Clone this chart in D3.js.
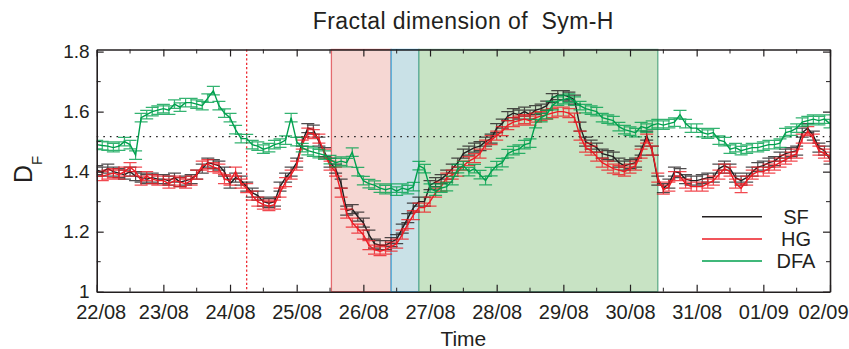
<!DOCTYPE html>
<html>
<head>
<meta charset="utf-8">
<script src="https://cdn.jsdelivr.net/npm/d3@7"></script>
<style>
  body { margin: 0; background: #fff; }
  svg { display: block; }
  text { font-family: "Liberation Sans", Arial, Helvetica, sans-serif; fill: #231f20; }
</style>
</head>
<body>
<svg id="chart" width="849" height="349"></svg>
<script>
// Sampling: one estimate every 2 hours from 22/08 00:00 to 02/09 00:00
const startTime = Date.UTC(2018, 7, 22);
const endTime = Date.UTC(2018, 8, 2);
const stepHours = 2;

// Structure-function estimate (SF)
const sfValues = [
  1.405, 1.40, 1.41, 1.40, 1.395, 1.39, 1.40, 1.385, 1.38, 1.375, 1.38, 1.375,
  1.375, 1.37, 1.38, 1.365, 1.37, 1.375, 1.39, 1.41, 1.43, 1.425, 1.42, 1.40,
  1.36, 1.38, 1.37, 1.35, 1.33, 1.32, 1.30, 1.295, 1.30, 1.35, 1.38, 1.40,
  1.43, 1.50, 1.545, 1.54, 1.50, 1.465, 1.43, 1.41, 1.36, 1.27, 1.275, 1.25,
  1.23, 1.19, 1.16, 1.155, 1.155, 1.165, 1.175, 1.21, 1.245, 1.28, 1.30, 1.30,
  1.355, 1.365, 1.375, 1.39, 1.41, 1.43, 1.46, 1.47, 1.48, 1.485, 1.50, 1.51,
  1.545, 1.56, 1.585, 1.595, 1.59, 1.60, 1.59, 1.605, 1.61, 1.62, 1.645, 1.655,
  1.655, 1.65, 1.64, 1.55, 1.50, 1.49, 1.48, 1.46, 1.455, 1.45, 1.43, 1.42,
  1.425, 1.43, 1.47, 1.52, 1.47, 1.37, 1.345, 1.36, 1.40, 1.395, 1.375, 1.37,
  1.37, 1.375, 1.38, 1.38, 1.41, 1.42, 1.41, 1.38, 1.37, 1.38, 1.40, 1.415,
  1.42, 1.43, 1.435, 1.45, 1.46, 1.465, 1.47, 1.53, 1.545, 1.52, 1.48, 1.47, 1.44
];

// Higuchi estimate (HG)
const hgValues = [
  1.385, 1.385, 1.39, 1.395, 1.39, 1.40, 1.415, 1.40, 1.37, 1.385, 1.375, 1.37,
  1.37, 1.36, 1.37, 1.365, 1.36, 1.37, 1.39, 1.42, 1.425, 1.415, 1.41, 1.375,
  1.37, 1.40, 1.36, 1.345, 1.32, 1.30, 1.29, 1.285, 1.29, 1.33, 1.365, 1.39,
  1.42, 1.49, 1.53, 1.525, 1.51, 1.46, 1.42, 1.40, 1.33, 1.26, 1.23, 1.21,
  1.19, 1.155, 1.14, 1.135, 1.14, 1.15, 1.16, 1.19, 1.225, 1.255, 1.28, 1.28,
  1.30, 1.33, 1.35, 1.38, 1.39, 1.40, 1.42, 1.435, 1.445, 1.46, 1.49, 1.505,
  1.52, 1.535, 1.555, 1.565, 1.57, 1.575, 1.57, 1.58, 1.585, 1.59, 1.595, 1.60,
  1.60, 1.595, 1.58, 1.52, 1.48, 1.47, 1.45, 1.43, 1.42, 1.41, 1.405, 1.40,
  1.41, 1.42, 1.46, 1.51, 1.47, 1.38, 1.34, 1.35, 1.385, 1.385, 1.36, 1.35,
  1.35, 1.35, 1.36, 1.37, 1.39, 1.41, 1.40, 1.36, 1.345, 1.37, 1.39, 1.40,
  1.40, 1.41, 1.42, 1.43, 1.44, 1.45, 1.46, 1.51, 1.535, 1.51, 1.47, 1.46, 1.45
];

// Detrended fluctuation analysis estimate (DFA)
const dfaValues = [
  1.49, 1.487, 1.485, 1.48, 1.485, 1.50, 1.49, 1.455, 1.58, 1.59, 1.60, 1.605,
  1.61, 1.605, 1.625, 1.615, 1.63, 1.63, 1.625, 1.62, 1.645, 1.67, 1.62, 1.595,
  1.58, 1.54, 1.51, 1.51, 1.49, 1.485, 1.475, 1.48, 1.49, 1.495, 1.505, 1.58,
  1.50, 1.48, 1.47, 1.465, 1.46, 1.455, 1.44, 1.43, 1.435, 1.43, 1.465, 1.40,
  1.37, 1.36, 1.355, 1.345, 1.34, 1.345, 1.335, 1.345, 1.34, 1.35, 1.42, 1.41,
  1.345, 1.335, 1.345, 1.35, 1.37, 1.41, 1.42, 1.40, 1.41, 1.39, 1.37, 1.40,
  1.42, 1.43, 1.46, 1.47, 1.475, 1.49, 1.495, 1.56, 1.58, 1.59, 1.62, 1.635,
  1.64, 1.645, 1.635, 1.62, 1.61, 1.605, 1.60, 1.58, 1.575, 1.57, 1.55, 1.54,
  1.535, 1.53, 1.55, 1.545, 1.555, 1.56, 1.555, 1.56, 1.565, 1.59, 1.56, 1.545,
  1.545, 1.53, 1.525, 1.53, 1.505, 1.50, 1.475, 1.48, 1.47, 1.475, 1.48, 1.48,
  1.485, 1.49, 1.49, 1.495, 1.53, 1.535, 1.545, 1.565, 1.57, 1.575, 1.57, 1.575, 1.56
];

// Half-width of the error bars of each method
const sfError = 0.015;
const hgError = 0.015;
const dfaError = 0.014;

const seriesNames = ["SF", "HG", "DFA"];
const seriesColors = ["#231f20", "#ed1c24", "#00a04e"];

// Storm phases (shaded bands) and reference markers
const phaseStarts = ["2018-08-25T12:30Z", "2018-08-26T10:00Z", "2018-08-26T20:00Z"];
const phaseEnds   = ["2018-08-26T10:00Z", "2018-08-26T20:00Z", "2018-08-30T10:00Z"];
const phaseFills  = ["#f6d7d3", "#c9e1e7", "#c8e3c4"];
const phaseEdges  = ["#e46a6e", "#3fa7da", "#63ad8a"];
const eventTime = "2018-08-24T06:00Z";
const referenceLevel = 1.517;

const yTicks = [1, 1.2, 1.4, 1.6, 1.8];
const yMinorTicks = [1.1, 1.3, 1.5, 1.7];

// ---------------------------------------------------------------
const W = 849, H = 349;
const margin = { left: 96.7, right: 19, top: 49.5, bottom: 57.3 };
const svg = d3.select("#chart");
const x = d3.scaleUtc().domain([startTime, endTime]).range([margin.left, W - margin.right]);
const y = d3.scaleLinear().domain([1, 1.807]).range([H - margin.bottom, margin.top]);
const x0 = x.range()[0], x1 = x.range()[1], y0 = y.range()[0], y1 = y.range()[1];

const times = sfValues.map((_, i) => new Date(startTime + i * stepHours * 3600e3));
const series = [
  { values: sfValues, err: sfError },
  { values: hgValues, err: hgError },
  { values: dfaValues, err: dfaError }
].map((s, k) => ({ ...s, name: seriesNames[k], color: seriesColors[k] }));

svg.append("defs").append("clipPath").attr("id", "plot-clip")
  .append("rect").attr("x", x0).attr("y", y1).attr("width", x1 - x0).attr("height", y0 - y1);

// Shaded phases
const phases = phaseStarts.map((s, i) => ({ a: new Date(s), b: new Date(phaseEnds[i]), fill: phaseFills[i], edge: phaseEdges[i] }));
svg.append("g").selectAll("rect").data(phases).join("rect")
  .attr("x", d => x(d.a)).attr("y", y1)
  .attr("width", d => x(d.b) - x(d.a)).attr("height", y0 - y1)
  .attr("fill", d => d.fill).attr("stroke", d => d.edge).attr("stroke-width", 1.3);

// Reference lines
svg.append("line")
  .attr("x1", x0).attr("x2", x1).attr("y1", y(referenceLevel)).attr("y2", y(referenceLevel))
  .attr("stroke", "#231f20").attr("stroke-width", 1.3).attr("stroke-dasharray", "1.6,5");
svg.append("line")
  .attr("x1", x(new Date(eventTime))).attr("x2", x(new Date(eventTime)))
  .attr("y1", y1).attr("y2", y0)
  .attr("stroke", "#ed1c24").attr("stroke-width", 1.2).attr("stroke-dasharray", "2.2,2.2");

// Series with error bars
const plot = svg.append("g").attr("clip-path", "url(#plot-clip)");
const line = d3.line().x((d, i) => x(times[i])).y(d => y(d));
const cap = 6.5;
series.forEach(s => {
  const g = plot.append("g");
  const bars = s.values.map((v, i) => {
    const cx = x(times[i]), lo = y(v - s.err), hi = y(v + s.err);
    return `M${cx},${lo}V${hi}M${cx - cap},${lo}H${cx + cap}M${cx - cap},${hi}H${cx + cap}`;
  }).join("");
  g.append("path").attr("d", bars).attr("fill", "none")
    .attr("stroke", s.color).attr("stroke-width", 1.2).attr("stroke-opacity", 0.8);
  g.append("path").datum(s.values).attr("d", line).attr("fill", "none")
    .attr("stroke", s.color).attr("stroke-width", 1.4);
});

// Axes (ticks point inward, box mirrored on top and right)
const dayTicks = d3.utcDay.range(new Date(startTime), new Date(endTime + 1));
const halfDayTicks = d3.utcHour.every(12).range(new Date(startTime), new Date(endTime + 1))
  .filter(d => d.getUTCHours() === 12);
const axisColor = "#231f20";

const xAxis = svg.append("g").attr("transform", `translate(0,${y0})`)
  .call(d3.axisBottom(x).tickValues(dayTicks).tickSizeInner(-7).tickSizeOuter(0).tickPadding(13)
    .tickFormat(d3.utcFormat("%d/%m")));
xAxis.selectAll("text").attr("font-size", 20)
  .attr("dx", (d, i) => i === 0 ? 4 : (i === dayTicks.length - 1 ? -7 : 0));

svg.append("g").attr("transform", `translate(0,${y1})`)
  .call(d3.axisTop(x).tickValues(dayTicks).tickSizeInner(-7).tickSizeOuter(0).tickFormat(""));

const yFmt = d => d3.format(".1f")(d).replace(/\.0$/, "");
const yAxis = svg.append("g").attr("transform", `translate(${x0},0)`)
  .call(d3.axisLeft(y).tickValues(yTicks).tickSizeInner(-7).tickSizeOuter(0).tickPadding(7).tickFormat(yFmt));
yAxis.selectAll("text").attr("font-size", 19);
svg.append("g").attr("transform", `translate(${x1},0)`)
  .call(d3.axisRight(y).tickValues(yTicks).tickSizeInner(-7).tickSizeOuter(0).tickFormat(""));

// Minor ticks
const minor = svg.append("g").attr("stroke", axisColor).attr("stroke-width", 1);
halfDayTicks.forEach(t => {
  minor.append("line").attr("x1", x(t)).attr("x2", x(t)).attr("y1", y0).attr("y2", y0 - 4);
  minor.append("line").attr("x1", x(t)).attr("x2", x(t)).attr("y1", y1).attr("y2", y1 + 4);
});
yMinorTicks.forEach(v => {
  minor.append("line").attr("x1", x0).attr("x2", x0 + 4).attr("y1", y(v)).attr("y2", y(v));
  minor.append("line").attr("x1", x1).attr("x2", x1 - 4).attr("y1", y(v)).attr("y2", y(v));
});

svg.selectAll(".tick line").attr("stroke", axisColor).attr("stroke-width", 1.2);
svg.selectAll(".domain").attr("stroke", axisColor).attr("stroke-width", 1.6);
svg.selectAll(".tick text").attr("fill", axisColor).attr("font-family", '"Liberation Sans", Arial, sans-serif');

// Titles
svg.append("text").attr("x", (x0 + x1) / 2).attr("y", 29).attr("text-anchor", "middle")
  .attr("font-size", 23).attr("letter-spacing", 0.4)
  .style("white-space", "pre").text("Fractal dimension of  Sym-H");
svg.append("text").attr("x", (x0 + x1) / 2).attr("y", 346).attr("text-anchor", "middle")
  .attr("font-size", 21).text("Time");
const yl = svg.append("text").attr("transform", "translate(32,183) rotate(-90)")
  .attr("font-size", 25);
yl.append("tspan").text("D");
yl.append("tspan").attr("font-size", 15).attr("dy", 10).text("F");

// Legend
const legY = [216.7, 239, 261];
const leg = svg.append("g");
series.forEach((s, k) => {
  leg.append("line").attr("x1", 702).attr("x2", 762).attr("y1", legY[k]).attr("y2", legY[k])
    .attr("stroke", s.color).attr("stroke-width", 1.6);
  leg.append("text").attr("x", 796).attr("y", legY[k]).attr("dy", "0.36em")
    .attr("text-anchor", "middle").attr("font-size", 20).text(s.name);
});
</script>
</body>
</html>
